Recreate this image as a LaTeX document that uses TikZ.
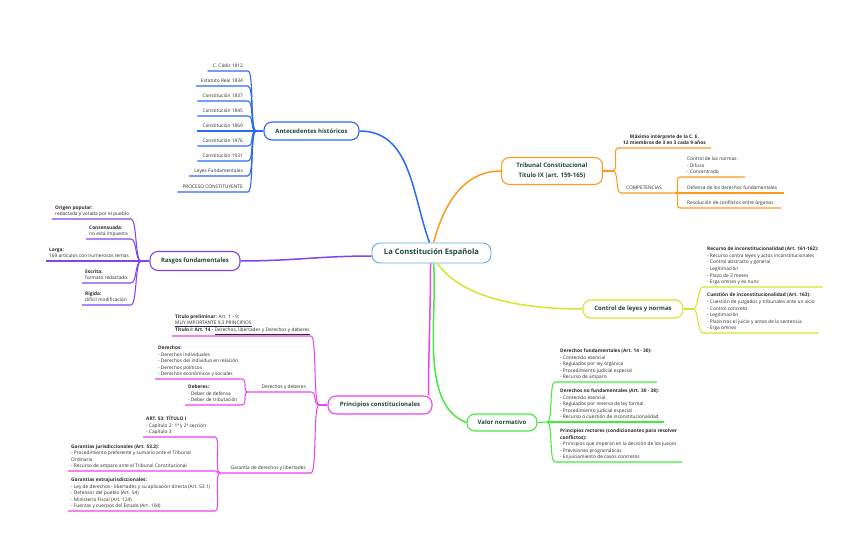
\documentclass[tikz,border=0pt]{standalone}
\usepackage{fontspec}
\setmainfont{Open Sans}
\definecolor{cmsky}{HTML}{62AEE0}
\definecolor{cmblue}{HTML}{2A6AF4}
\definecolor{cmpurple}{HTML}{8044F2}
\definecolor{cmmagenta}{HTML}{EE44EE}
\definecolor{cmorange}{HTML}{FF9A20}
\definecolor{cmlime}{HTML}{CDEB2C}
\definecolor{cmgreen}{HTML}{44EA3E}
\definecolor{cmink}{HTML}{1D4A3B}
\definecolor{cmtext}{HTML}{2B2B2B}
\newcommand\leaffont{\fontsize{4.8}{6.6}\selectfont}
\newcommand\topicfont{\fontsize{6}{7}\selectfont\bfseries}
\newcommand\lstrut{\rule[-1.8pt]{0pt}{4.6pt}}
\tikzset{
  topic/.style={draw, line width=1.1pt, fill=white, rounded corners=8pt, align=center, text=cmink, font=\topicfont, minimum height=18pt, inner sep=1pt},
  leaf/.style={anchor=south west, align=left, inner xsep=5pt, inner ysep=1.2pt, font=\leaffont, text=cmtext, execute at end node=\lstrut},
  leafr/.style={leaf, anchor=south east, align=right},
  trunk/.style={line width=1.5pt},
  twig/.style={line width=1.05pt},
  joinE/.style={out=0, in=180, distance=6pt},
  joinW/.style={out=180, in=0, distance=6pt},
}

\begin{document}
\begin{tikzpicture}[x=1pt, y=-1pt]
  \useasboundingbox[fill=white] (0,0) rectangle (848,553);

  % main topics
  \node[topic, draw=cmsky, line width=0.9pt, font=\fontsize{7.6}{9}\selectfont\bfseries, minimum width=119pt, minimum height=20pt] (cte) at (431.5,253) {La Constitución Española};
  \node[topic, draw=cmblue, minimum width=95pt] (ant) at (311.5,131) {Antecedentes históricos};
  \node[topic, draw=cmpurple, minimum width=90pt, minimum height=19pt] (ras) at (195,261) {Rasgos fundamentales};
  \node[topic, draw=cmmagenta, minimum width=104pt] (pri) at (380,405) {Principios constitucionales};
  \node[topic, draw=cmorange, minimum width=101pt, minimum height=27pt, font=\fontsize{6.1}{9.8}\selectfont\bfseries] (tri) at (552,171) {Tribunal Constitucional\\Título IX (art. 159-165)};
  \node[topic, draw=cmlime, minimum width=100pt] (con) at (633,309) {Control de leyes y normas};
  \node[topic, draw=cmgreen, minimum width=70pt, minimum height=17pt] (val) at (502,422.5) {Valor normativo};

  \draw[trunk, cmblue] (ant.east) to[out=0, in=110] ([xshift=-2pt]cte.north);
  \draw[trunk, cmorange] ([xshift=2pt]cte.north) to[out=75, in=180] (tri.west);
  \draw[trunk, cmpurple] ([yshift=-3pt]cte.west) to[out=180, in=0] (ras.east);
  \draw[trunk, cmmagenta] ([xshift=-1pt]cte.south) to[out=-90, in=90] ([xshift=-4pt]pri.north east);
  \draw[trunk, cmgreen] ([xshift=2pt]cte.south) to[out=-85, in=160, looseness=0.8] (val.west);
  \draw[trunk, cmlime] ([xshift=6pt]cte.south) to[out=-55, in=180, looseness=0.8] (con.west);

  % antecedentes
  \node[leafr] (a1) at (248,71) {C. Cádiz 1812};
  \node[leafr] (a2) at (248,86) {Estatuto Real 1834};
  \node[leafr] (a3) at (248,101) {Constitución 1837};
  \node[leafr] (a4) at (248,116) {Constitución 1845};
  \node[leafr] (a5) at (248,131) {Constitución 1869};
  \node[leafr] (a6) at (248,146) {Constitución 1876};
  \node[leafr] (a7) at (248,161) {Constitución 1931};
  \node[leafr] (a8) at (248,176) {Leyes Fundamentales};
  \node[leafr] (a9) at (248,192) {PROCESO CONSTITUYENTE};
  \coordinate (bA) at (256,131);
  \draw[twig, cmblue] (ant.west) -- (bA);
  \foreach \i in {1,...,9}
    \draw[twig, cmblue] (a\i.south west) -- (a\i.south east) to[joinE] (bA);

  % rasgos
  \node[leaf, inner xsep=3pt] (r1) at (52,219) {\textbf{Origen popular:}\\redactada y votada por el pueblo};
  \node[leaf, inner xsep=3pt] (r2) at (86,239) {\textbf{Consensuada:}\\no está impuesta};
  \node[leaf, inner xsep=3pt] (r3) at (46,261) {\textbf{Larga:}\\169 artículos con numerosos temas};
  \node[leaf, inner xsep=3pt] (r4) at (82,283) {\textbf{Escrita:}\\formato redactado};
  \node[leaf, inner xsep=3pt] (r5) at (82,305) {\textbf{Rígida:}\\difícil modificación};
  \coordinate (bR) at (141,261);
  \coordinate (eR) at (131,261);
  \draw[twig, cmpurple] (ras.west) -- (bR);
  \foreach \i in {1,...,5}
    \draw[twig, cmpurple] (r\i.south west) -- (r\i.south west -| eR) to[joinE] (bR);

  % principios
  \coordinate (bP) at (319,405);
  \coordinate (eP) at (311,405);
  \draw[twig, cmmagenta] (pri.west) -- (bP);
  \node[leaf, inner xsep=3pt] (p1) at (172,336) {\textbf{Título preliminar:} Art. 1 - 9;\\\underline{MUY IMPORTANTE 9.3 PRINCIPIOS}\\\textbf{Título I: Art. 14 -} \underline{Derechos, libertades y Derechos y deberes}};
  \draw[twig, cmmagenta] (p1.south west) -- (p1.south west -| eP) to[joinE] (bP);

  \coordinate (bD) at (248,392);
  \coordinate (eD) at (242,392);
  \node[leafr] (p2) at (311,392) {Derechos y deberes};
  \draw[twig, cmmagenta] (bD) -- (p2.south east) to[joinE] (bP);
  \node[leaf, inner xsep=3pt] (p21) at (155,379) {\textbf{Derechos:}\\- Derechos individuales\\- Derechos del individuo en relación\\- Derechos políticos\\- Derechos económicos y sociales};
  \node[leaf, inner xsep=3pt] (p22) at (185,405) {\textbf{Deberes:}\\- Deber de defensa\\- Deber de tributación};
  \foreach \n in {p21,p22}
    \draw[twig, cmmagenta] (\n.south west) -- (\n.south west -| eD) to[joinE] (bD);

  \coordinate (bG) at (220,473);
  \coordinate (eG) at (215,473);
  \node[leafr] (p3) at (311,473) {Garantía de derechos y libertades};
  \draw[twig, cmmagenta] (bG) -- (p3.south east) to[joinE] (bP);
  \node[leaf, inner xsep=3pt] (p31) at (143,437) {\textbf{ART. 53: TÍTULO I}\\- Capítulo 2: 1ª y 2ª sección\\- Capítulo 3};
  \node[leaf, inner xsep=3pt] (p32) at (68,471) {\textbf{Garantías jurisdiccionales (Art. 53.2):}\\- Procedimiento preferente y sumario ante el Tribunal\\Ordinario\\- Recurso de amparo ante el Tribunal Constitucional};
  \node[leaf, inner xsep=3pt] (p33) at (68,511) {\textbf{Garantías extrajurisdiccionales:}\\- Ley de derechos - libertades y su aplicación directa (Art. 53.1)\\- Defensor del pueblo (Art. 54)\\- Ministerio Fiscal (Art. 124)\\- Fuerzas y cuerpos del Estado (Art. 104)};
  \foreach \n in {p31,p32,p33}
    \draw[twig, cmmagenta] (\n.south west) -- (\n.south west -| eG) to[joinE] (bG);

  % tribunal
  \coordinate (bT) at (613,171);
  \draw[twig, cmorange] (tri.east) -- (bT);
  \node[leaf, align=center, font=\leaffont\bfseries, inner xsep=5pt] (t1) at (618,148) {Máximo intérprete de la C. E.\\12 miembros de 3 en 3 cada 9 años};
  \draw[twig, cmorange] (t1.south east) -- (t1.south west) to[joinW] (bT);
  \coordinate (bC) at (675,193);
  \node[leaf] (t2) at (621,193) {COMPETENCIAS};
  \draw[twig, cmorange] (bC) -- (t2.south west) to[joinW] (bT);
  \node[leaf, inner xsep=7pt] (t21) at (680,177) {Control de las normas:\\- Difuso\\- Concentrado};
  \node[leaf, inner xsep=7pt] (t22) at (680,193) {Defensa de los derechos fundamentales};
  \node[leaf, inner xsep=7pt] (t23) at (680,208) {Resolución de conflictos entre órganos};
  \foreach \n in {t21,t22,t23}
    \draw[twig, cmorange] (\n.south east) -- (\n.south west) to[joinW] (bC);

  % control
  \coordinate (bK) at (693,309);
  \draw[twig, cmlime] (con.east) -- (bK);
  \node[leaf, inner xsep=4pt] (c1) at (703,287) {\textbf{Recurso de inconstitucionalidad (Art. 161-162):}\\- Recurso contra leyes y actos inconstitucionales\\- Control abstracto y general\\- Legitimación\\- Plazo de 3 meses\\- Erga omnes y ex nunc};
  \node[leaf, inner xsep=4pt] (c2) at (703,333) {\textbf{Cuestión de inconstitucionalidad (Art. 163):}\\- Cuestión de juzgados y tribunales ante un vicio\\- Control concreto\\- Legitimación\\- Plazo tras el juicio y antes de la sentencia\\- Erga omnes};
  \foreach \n in {c1,c2}
    \draw[twig, cmlime] (\n.south east) -- (\n.south west) to[joinW] (bK);

  % valor normativo
  \coordinate (bV) at (547,422);
  \draw[twig, cmgreen] (val.east) -- (bV);
  \node[leaf] (v1) at (555,382) {\textbf{Derechos fundamentales (Art. 14 - 30):}\\- Contenido esencial\\- Regulados por ley orgánica\\- Procedimiento judicial especial\\- Recurso de amparo};
  \node[leaf] (v2) at (555,422) {\textbf{Derechos no fundamentales (Art. 30 - 38):}\\- Contenido esencial.\\- Regulados por reserva de ley formal.\\- Procedimiento judicial especial\\- Recurso o cuestión de inconstitucionalidad};
  \node[leaf] (v3) at (555,462) {\textbf{Principios rectores (condicionantes para resolver}\\\textbf{conflictos):}\\- Principios que imperan en la decisión de los jueces\\- Previsiones programáticas\\- Enjuiciamiento de casos concretos};
  \foreach \n in {v1,v2,v3}
    \draw[twig, cmgreen] (\n.south east) -- (\n.south west) to[joinW] (bV);
\end{tikzpicture}
\end{document}
